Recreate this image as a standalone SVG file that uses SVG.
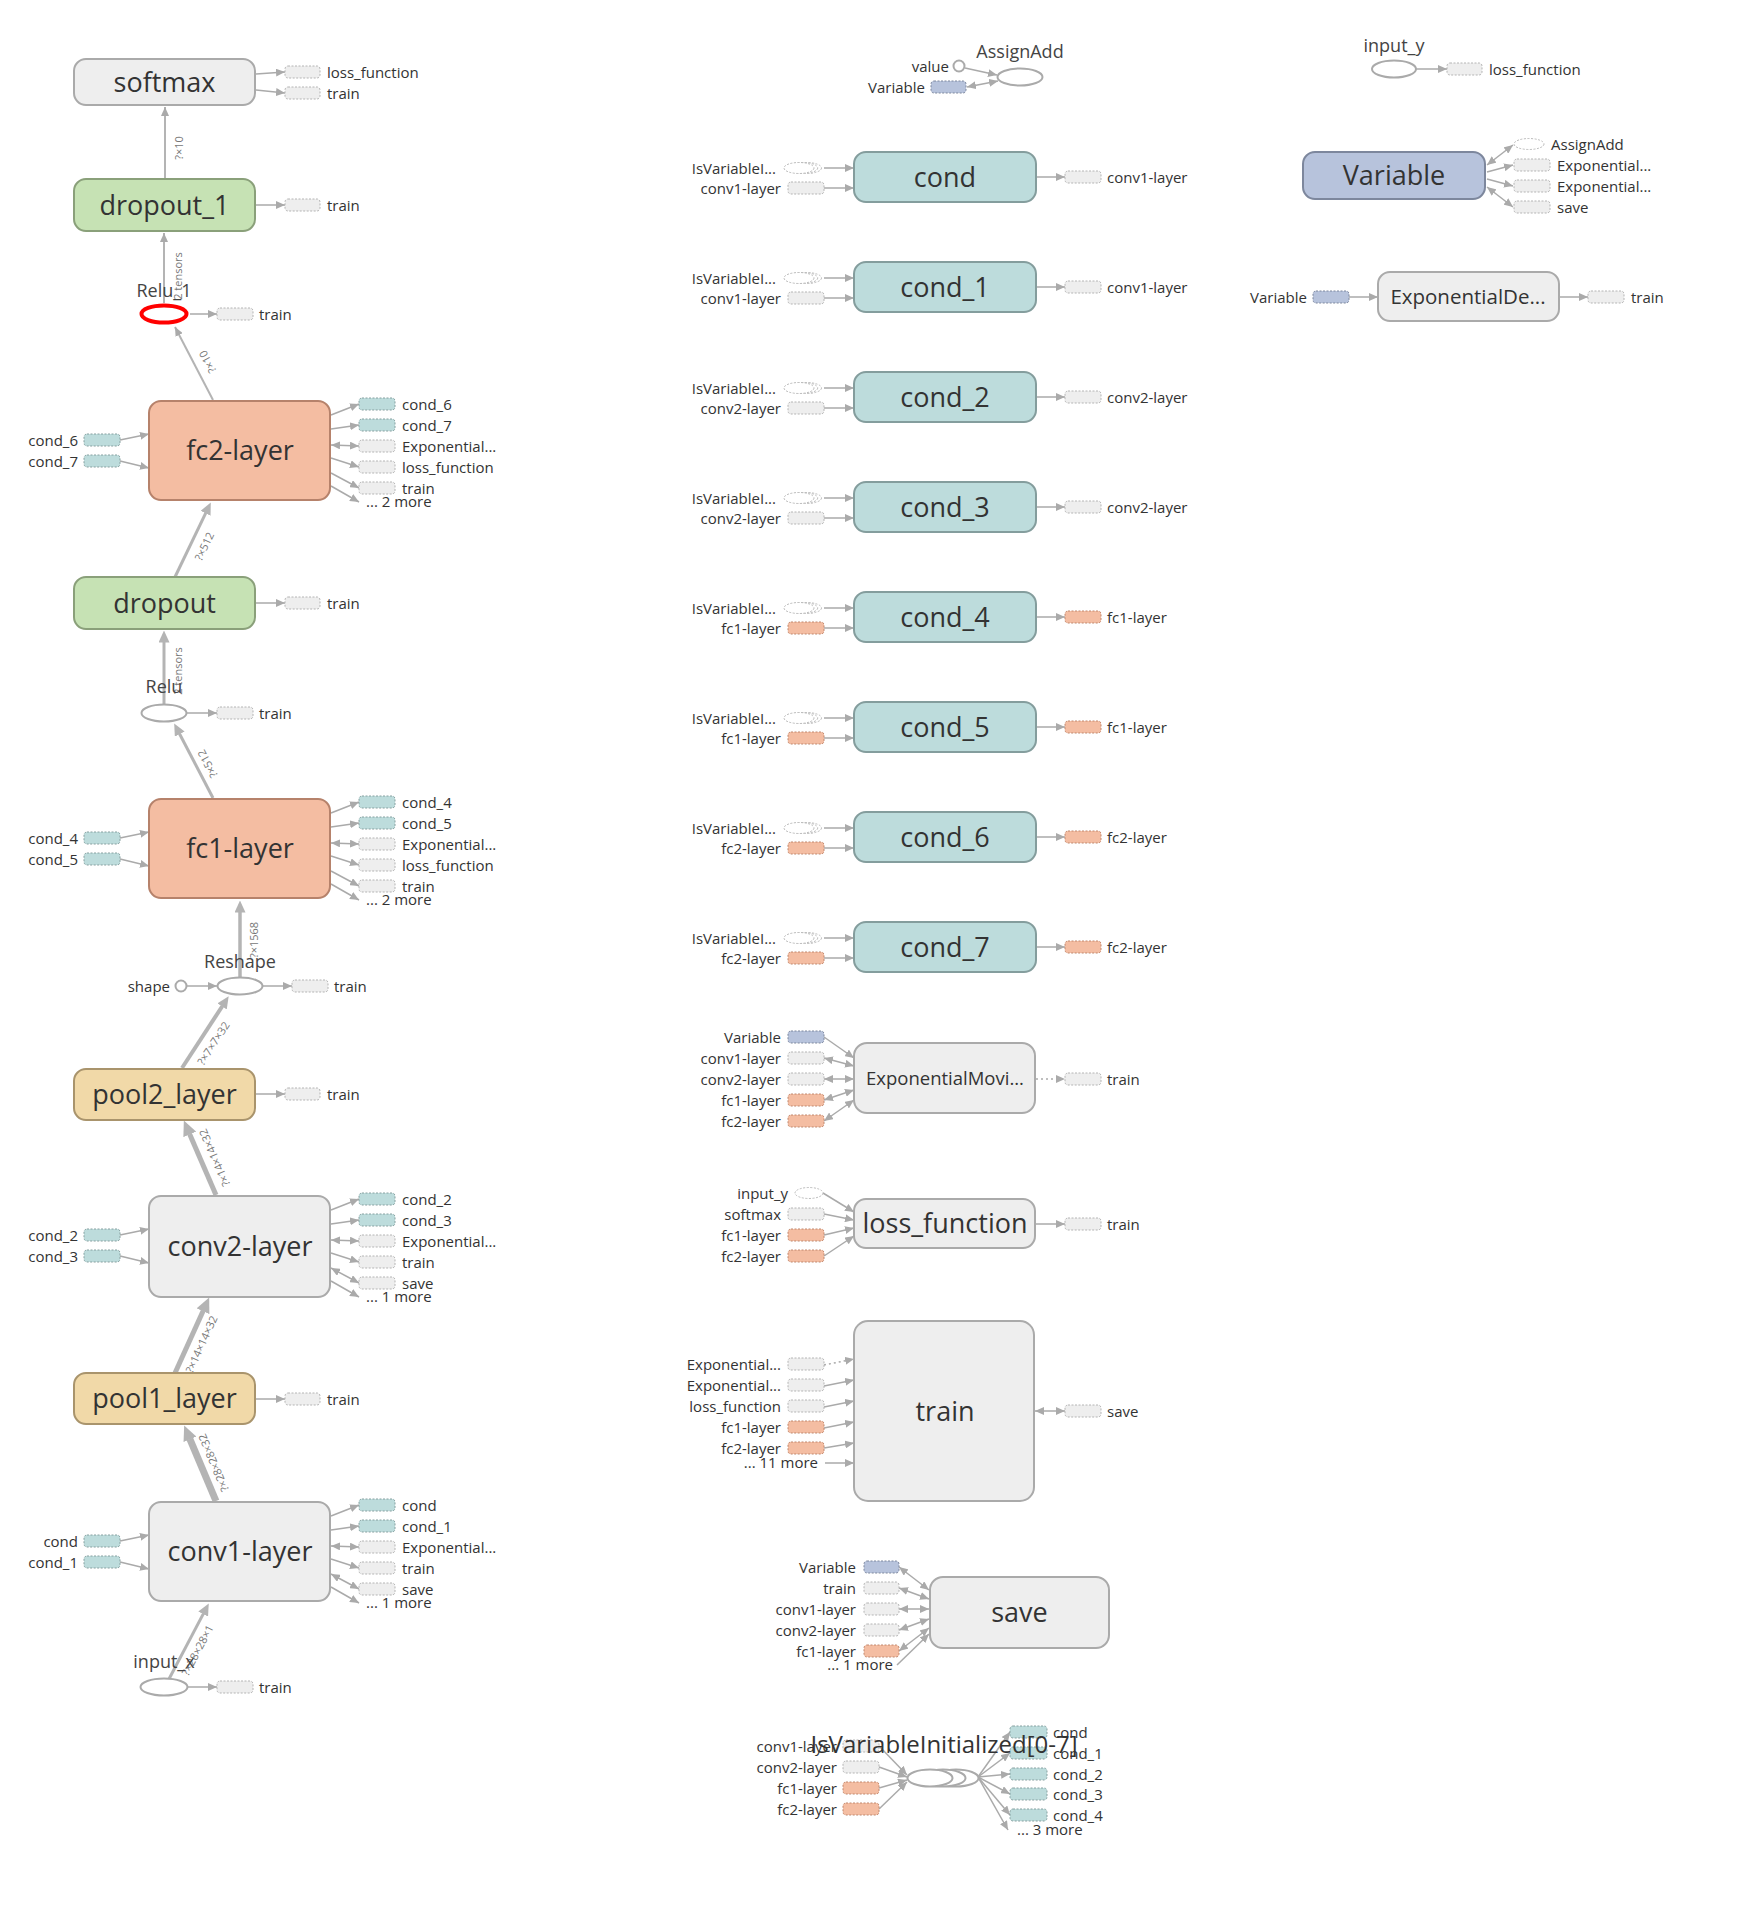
<svg xmlns="http://www.w3.org/2000/svg" width="1752" height="1925" viewBox="0 0 1752 1925">
<defs>
<style>
text{font-family:"Open Sans","Noto Sans","DejaVu Sans",sans-serif;fill:#333}
.nl{font-size:27px;text-anchor:middle}
.sl{font-size:15px}
.r{text-anchor:end}
.ol{font-size:18px;text-anchor:middle;fill:#444}
.el{font-size:11px;fill:#777;text-anchor:middle;dominant-baseline:central}
.box{stroke-width:2}
.grey{fill:#eeeeee;stroke:#aaaaaa}
.cond{fill:#bddcdc;stroke:#849d9d}
.fc{fill:#f4bda2;stroke:#b6826b}
.drop{fill:#c6e2b4;stroke:#8aa07a}
.pool{fill:#f1d9a8;stroke:#a9946c}
.var{fill:#b7c3dc;stroke:#7d879d}
.stub{stroke-width:1;stroke-dasharray:2 1.5}
.sg{fill:#eeeeee;stroke:#b4b4b4}
.sc{fill:#bddcdc;stroke:#86a0a0}
.sf{fill:#f4bda2;stroke:#c0876d}
.sv{fill:#b7c3dc;stroke:#7d879d}
.se{fill:#fff;stroke:#bbb;stroke-width:1;stroke-dasharray:2 1.5}
.op{fill:#fff;stroke:#aaa;stroke-width:2}
.e{fill:none;stroke:#aaa;stroke-width:1.5;marker-end:url(#a)}
.b{marker-start:url(#a)}
.d{stroke-dasharray:2 3}
.me{fill:none;stroke:#b4b4b4}
</style>
<marker id="a" viewBox="0 0 9 8" refX="9" refY="4" markerWidth="9" markerHeight="8" markerUnits="userSpaceOnUse" orient="auto-start-reverse"><path d="M0,0L9,4L0,8z" fill="#aaa"/></marker>
<marker id="am" viewBox="0 0 12 11" refX="0.5" refY="5.5" markerWidth="12" markerHeight="11" markerUnits="userSpaceOnUse" orient="auto"><path d="M0,0L12,5.5L0,11z" fill="#b4b4b4"/></marker>
<marker id="al" viewBox="0 0 15 14" refX="0.5" refY="7" markerWidth="15" markerHeight="14" markerUnits="userSpaceOnUse" orient="auto"><path d="M0,0L15,7L0,14z" fill="#b4b4b4"/></marker>
<g id="isv">
<ellipse class="se" cx="7.5" cy="0" rx="15" ry="5.5"/>
<ellipse class="se" cx="3.7" cy="0" rx="15" ry="5.5"/>
<ellipse class="se" cx="0" cy="0" rx="15" ry="5.5"/>
</g>
</defs>
<rect width="1752" height="1925" fill="#fff"/>

<!-- connectors -->
<g id="connectors">
<!-- main data-flow edges of the left chain -->
<line class="me" x1="165" y1="179" x2="165" y2="107" stroke-width="2" marker-end="url(#a)"/>
<line class="me" x1="164" y1="303" x2="164" y2="233" stroke-width="2" marker-end="url(#a)"/>
<line class="me" x1="213" y1="400" x2="175" y2="327" stroke-width="2" marker-end="url(#a)"/>
<line class="me" x1="175" y1="577" x2="205.8" y2="512.8" stroke-width="3" marker-end="url(#am)"/>
<line class="me" x1="164" y1="704" x2="164" y2="642" stroke-width="3" marker-end="url(#am)"/>
<line class="me" x1="213" y1="798" x2="179.5" y2="733.7" stroke-width="3" marker-end="url(#am)"/>
<line class="me" x1="240" y1="977" x2="240" y2="912" stroke-width="3.5" marker-end="url(#am)"/>
<line class="me" x1="182" y1="1068" x2="222.4" y2="1006" stroke-width="4" marker-end="url(#am)"/>
<line class="me" x1="216" y1="1195" x2="189.6" y2="1133.9" stroke-width="5" marker-end="url(#al)"/>
<line class="me" x1="175" y1="1373" x2="203.2" y2="1310.8" stroke-width="5" marker-end="url(#al)"/>
<line class="me" x1="216" y1="1501" x2="189.8" y2="1438.8" stroke-width="7" marker-end="url(#al)"/>
<line class="me" x1="169" y1="1679" x2="203.4" y2="1613.6" stroke-width="3" marker-end="url(#am)"/>

<!-- edge shape labels -->
<text class="el" transform="translate(178,148) rotate(-90)">?×10</text>
<text class="el" transform="translate(177,276) rotate(-90)">2 tensors</text>
<text class="el" transform="translate(207,362) rotate(-117.5)">?×10</text>
<text class="el" transform="translate(204,546) rotate(-64.4)">?×512</text>
<text class="el" transform="translate(177,671) rotate(-90)">2 tensors</text>
<text class="el" transform="translate(207,764) rotate(-117.5)">?×512</text>
<text class="el" transform="translate(253,940) rotate(-90)">?×1568</text>
<text class="el" transform="translate(213,1043) rotate(-56.9)">?×7×7×32</text>
<text class="el" transform="translate(214,1158) rotate(-113.4)">?×14×14×32</text>
<text class="el" transform="translate(201,1344) rotate(-65.6)">?×14×14×32</text>
<text class="el" transform="translate(213,1463) rotate(-112.8)">?×28×28×32</text>
<text class="el" transform="translate(197,1650) rotate(-62.2)">?×28×28×1</text>

<!-- annotation arrows, left chain -->
<line class="e" x1="256" y1="74" x2="285" y2="72"/>
<line class="e" x1="256" y1="90" x2="285" y2="93"/>
<line class="e" x1="255" y1="205" x2="285" y2="205"/>
<line class="e" x1="190" y1="314" x2="217" y2="314"/>
<line class="e" x1="255" y1="603" x2="285" y2="603"/>
<line class="e" x1="187" y1="713" x2="217" y2="713"/>
<line class="e" x1="187" y1="986" x2="217" y2="986"/>
<line class="e" x1="263" y1="986" x2="292" y2="986"/>
<line class="e" x1="255" y1="1094" x2="285" y2="1094"/>
<line class="e" x1="255" y1="1399" x2="285" y2="1399"/>
<line class="e" x1="188" y1="1687" x2="217" y2="1687"/>

<g transform="translate(0,401)">
<line class="e" x1="120" y1="39" x2="149" y2="33"/>
<line class="e" x1="120" y1="60" x2="149" y2="67"/>
<line class="e" x1="331" y1="14" x2="359" y2="3"/>
<line class="e" x1="331" y1="28" x2="359" y2="24"/>
<line class="e b" x1="331" y1="44" x2="359" y2="45"/>
<line class="e" x1="331" y1="57" x2="359" y2="66"/>
<line class="e" x1="331" y1="72" x2="359" y2="87"/>
<line class="e" x1="331" y1="85" x2="359" y2="101"/>
</g>
<g transform="translate(0,799)">
<line class="e" x1="120" y1="39" x2="149" y2="33"/>
<line class="e" x1="120" y1="60" x2="149" y2="67"/>
<line class="e" x1="331" y1="14" x2="359" y2="3"/>
<line class="e" x1="331" y1="28" x2="359" y2="24"/>
<line class="e b" x1="331" y1="44" x2="359" y2="45"/>
<line class="e" x1="331" y1="57" x2="359" y2="66"/>
<line class="e" x1="331" y1="72" x2="359" y2="87"/>
<line class="e" x1="331" y1="85" x2="359" y2="101"/>
</g>
<g transform="translate(0,1196)">
<line class="e" x1="120" y1="39" x2="149" y2="33"/>
<line class="e" x1="120" y1="60" x2="149" y2="67"/>
<line class="e" x1="331" y1="14" x2="359" y2="3"/>
<line class="e" x1="331" y1="28" x2="359" y2="24"/>
<line class="e b" x1="331" y1="44" x2="359" y2="45"/>
<line class="e" x1="331" y1="57" x2="359" y2="66"/>
<line class="e b" x1="331" y1="72" x2="359" y2="87"/>
<line class="e" x1="331" y1="85" x2="359" y2="101"/>
</g>
<g transform="translate(0,1502)">
<line class="e" x1="120" y1="39" x2="149" y2="33"/>
<line class="e" x1="120" y1="60" x2="149" y2="67"/>
<line class="e" x1="331" y1="14" x2="359" y2="3"/>
<line class="e" x1="331" y1="28" x2="359" y2="24"/>
<line class="e b" x1="331" y1="44" x2="359" y2="45"/>
<line class="e" x1="331" y1="57" x2="359" y2="66"/>
<line class="e b" x1="331" y1="72" x2="359" y2="87"/>
<line class="e" x1="331" y1="85" x2="359" y2="101"/>
</g>

<!-- middle column -->
<line class="e" x1="965" y1="68" x2="997" y2="75"/>
<line class="e b" x1="998" y1="81" x2="967" y2="87"/>

<g transform="translate(0,152)">
<line class="e" x1="824" y1="16" x2="854" y2="16"/><line class="e" x1="824" y1="36" x2="854" y2="36"/><line class="e" x1="1037" y1="25" x2="1065" y2="25"/>
</g>
<g transform="translate(0,262)">
<line class="e" x1="824" y1="16" x2="854" y2="16"/><line class="e" x1="824" y1="36" x2="854" y2="36"/><line class="e" x1="1037" y1="25" x2="1065" y2="25"/>
</g>
<g transform="translate(0,372)">
<line class="e" x1="824" y1="16" x2="854" y2="16"/><line class="e" x1="824" y1="36" x2="854" y2="36"/><line class="e" x1="1037" y1="25" x2="1065" y2="25"/>
</g>
<g transform="translate(0,482)">
<line class="e" x1="824" y1="16" x2="854" y2="16"/><line class="e" x1="824" y1="36" x2="854" y2="36"/><line class="e" x1="1037" y1="25" x2="1065" y2="25"/>
</g>
<g transform="translate(0,592)">
<line class="e" x1="824" y1="16" x2="854" y2="16"/><line class="e" x1="824" y1="36" x2="854" y2="36"/><line class="e" x1="1037" y1="25" x2="1065" y2="25"/>
</g>
<g transform="translate(0,702)">
<line class="e" x1="824" y1="16" x2="854" y2="16"/><line class="e" x1="824" y1="36" x2="854" y2="36"/><line class="e" x1="1037" y1="25" x2="1065" y2="25"/>
</g>
<g transform="translate(0,812)">
<line class="e" x1="824" y1="16" x2="854" y2="16"/><line class="e" x1="824" y1="36" x2="854" y2="36"/><line class="e" x1="1037" y1="25" x2="1065" y2="25"/>
</g>
<g transform="translate(0,922)">
<line class="e" x1="824" y1="16" x2="854" y2="16"/><line class="e" x1="824" y1="36" x2="854" y2="36"/><line class="e" x1="1037" y1="25" x2="1065" y2="25"/>
</g>

<line class="e" x1="824" y1="1037" x2="854" y2="1058"/>
<line class="e b" x1="824" y1="1058" x2="854" y2="1066"/>
<line class="e b" x1="824" y1="1079" x2="854" y2="1079"/>
<line class="e b" x1="824" y1="1100" x2="854" y2="1090"/>
<line class="e b" x1="824" y1="1121" x2="854" y2="1100"/>
<line class="e d" x1="1036" y1="1079" x2="1065" y2="1079"/>

<line class="e" x1="823" y1="1193" x2="854" y2="1212"/>
<line class="e" x1="824" y1="1214" x2="854" y2="1220"/>
<line class="e" x1="824" y1="1235" x2="854" y2="1228"/>
<line class="e" x1="824" y1="1256" x2="854" y2="1236"/>
<line class="e" x1="1036" y1="1224" x2="1065" y2="1224"/>

<line class="e d" x1="824" y1="1365" x2="854" y2="1359"/>
<line class="e" x1="824" y1="1386" x2="854" y2="1380"/>
<line class="e" x1="824" y1="1407" x2="854" y2="1401"/>
<line class="e" x1="824" y1="1428" x2="854" y2="1422"/>
<line class="e" x1="824" y1="1448" x2="854" y2="1443"/>
<line class="e" x1="825" y1="1463" x2="854" y2="1463"/>
<line class="e b" x1="1035" y1="1411" x2="1065" y2="1411"/>

<line class="e b" x1="899" y1="1567" x2="929" y2="1590"/>
<line class="e b" x1="899" y1="1588" x2="929" y2="1599"/>
<line class="e b" x1="899" y1="1609" x2="929" y2="1609"/>
<line class="e b" x1="899" y1="1630" x2="929" y2="1619"/>
<line class="e b" x1="899" y1="1651" x2="929" y2="1628"/>
<line class="e" x1="897" y1="1665" x2="929" y2="1634"/>

<line class="e" x1="879" y1="1746" x2="907" y2="1775"/>
<line class="e" x1="879" y1="1767" x2="907" y2="1777"/>
<line class="e" x1="879" y1="1788" x2="907" y2="1780"/>
<line class="e" x1="879" y1="1809" x2="907" y2="1782"/>
<line class="e" x1="978" y1="1777" x2="1010" y2="1732"/>
<line class="e" x1="978" y1="1777" x2="1010" y2="1753"/>
<line class="e" x1="978" y1="1777" x2="1010" y2="1774"/>
<line class="e" x1="978" y1="1777" x2="1010" y2="1794"/>
<line class="e" x1="978" y1="1777" x2="1010" y2="1815"/>
<line class="e" x1="978" y1="1777" x2="1008" y2="1830"/>

<!-- right column -->
<line class="e" x1="1416" y1="69" x2="1447" y2="69"/>
<line class="e b" x1="1487" y1="165" x2="1513" y2="145"/>
<line class="e" x1="1487" y1="172" x2="1513" y2="165"/>
<line class="e" x1="1487" y1="179" x2="1513" y2="186"/>
<line class="e b" x1="1487" y1="187" x2="1513" y2="207"/>
<line class="e" x1="1349" y1="297" x2="1378" y2="297"/>
<line class="e" x1="1559" y1="297" x2="1588" y2="297"/>
</g>

<!-- left chain nodes -->
<g id="node-softmax">
<rect class="box grey" x="74" y="59" width="181" height="46" rx="12"/>
<text class="nl" x="164.5" y="91.5">softmax</text>
<rect class="stub sg" x="285" y="66" width="35" height="12" rx="3"/>
<text class="sl" x="327" y="77.5">loss_function</text>
<rect class="stub sg" x="285" y="87" width="35" height="12" rx="3"/>
<text class="sl" x="327" y="98.5">train</text>
</g>

<g id="node-dropout_1">
<rect class="box drop" x="74" y="179" width="181" height="52" rx="12"/>
<text class="nl" x="164.5" y="214.5">dropout_1</text>
<rect class="stub sg" x="285" y="199" width="35" height="12" rx="3"/>
<text class="sl" x="327" y="210.5">train</text>
</g>

<g id="node-Relu_1">
<ellipse cx="164" cy="314" rx="22.5" ry="8.5" fill="#fff" stroke="#ff0000" stroke-width="4"/>
<text class="ol" x="164" y="297">Relu_1</text>
<rect class="stub sg" x="217" y="308" width="36" height="12" rx="3"/>
<text class="sl" x="259" y="319.5">train</text>
</g>

<g id="node-fc2-layer" transform="translate(0,401)">
<rect class="box fc" x="149" y="0" width="181" height="99" rx="12"/>
<text class="nl" x="240" y="59">fc2-layer</text>
<rect class="stub sc" x="84" y="33" width="36" height="12" rx="3"/>
<text class="sl r" x="78" y="44.5">cond_6</text>
<rect class="stub sc" x="84" y="54" width="36" height="12" rx="3"/>
<text class="sl r" x="78" y="65.5">cond_7</text>
<rect class="stub sc" x="359" y="-3" width="36" height="12" rx="3"/>
<text class="sl" x="402" y="8.5">cond_6</text>
<rect class="stub sc" x="359" y="18" width="36" height="12" rx="3"/>
<text class="sl" x="402" y="29.5">cond_7</text>
<rect class="stub sg" x="359" y="39" width="36" height="12" rx="3"/>
<text class="sl" x="402" y="50.5">Exponential...</text>
<rect class="stub sg" x="359" y="60" width="36" height="12" rx="3"/>
<text class="sl" x="402" y="71.5">loss_function</text>
<rect class="stub sg" x="359" y="81" width="36" height="12" rx="3"/>
<text class="sl" x="402" y="92.5">train</text>
<text class="sl" x="366" y="106">... 2 more</text>
</g>

<g id="node-dropout">
<rect class="box drop" x="74" y="577" width="181" height="52" rx="12"/>
<text class="nl" x="164.5" y="612.5">dropout</text>
<rect class="stub sg" x="285" y="597" width="35" height="12" rx="3"/>
<text class="sl" x="327" y="608.5">train</text>
</g>

<g id="node-Relu">
<ellipse class="op" cx="164" cy="713" rx="22.5" ry="8.5"/>
<text class="ol" x="164" y="693">Relu</text>
<rect class="stub sg" x="217" y="707" width="36" height="12" rx="3"/>
<text class="sl" x="259" y="718.5">train</text>
</g>

<g id="node-fc1-layer" transform="translate(0,799)">
<rect class="box fc" x="149" y="0" width="181" height="99" rx="12"/>
<text class="nl" x="240" y="59">fc1-layer</text>
<rect class="stub sc" x="84" y="33" width="36" height="12" rx="3"/>
<text class="sl r" x="78" y="44.5">cond_4</text>
<rect class="stub sc" x="84" y="54" width="36" height="12" rx="3"/>
<text class="sl r" x="78" y="65.5">cond_5</text>
<rect class="stub sc" x="359" y="-3" width="36" height="12" rx="3"/>
<text class="sl" x="402" y="8.5">cond_4</text>
<rect class="stub sc" x="359" y="18" width="36" height="12" rx="3"/>
<text class="sl" x="402" y="29.5">cond_5</text>
<rect class="stub sg" x="359" y="39" width="36" height="12" rx="3"/>
<text class="sl" x="402" y="50.5">Exponential...</text>
<rect class="stub sg" x="359" y="60" width="36" height="12" rx="3"/>
<text class="sl" x="402" y="71.5">loss_function</text>
<rect class="stub sg" x="359" y="81" width="36" height="12" rx="3"/>
<text class="sl" x="402" y="92.5">train</text>
<text class="sl" x="366" y="106">... 2 more</text>
</g>

<g id="node-Reshape">
<ellipse class="op" cx="240" cy="986" rx="22.5" ry="8.5"/>
<text class="ol" x="240" y="968">Reshape</text>
<circle class="op" cx="181" cy="986" r="5.5" stroke-width="1.5"/>
<text class="sl r" x="170" y="991.5">shape</text>
<rect class="stub sg" x="292" y="980" width="36" height="12" rx="3"/>
<text class="sl" x="334" y="991.5">train</text>
</g>

<g id="node-pool2_layer">
<rect class="box pool" x="74" y="1069" width="181" height="51" rx="12"/>
<text class="nl" x="164.5" y="1104">pool2_layer</text>
<rect class="stub sg" x="285" y="1088" width="35" height="12" rx="3"/>
<text class="sl" x="327" y="1099.5">train</text>
</g>

<g id="node-conv2-layer" transform="translate(0,1196)">
<rect class="box grey" x="149" y="0" width="181" height="101" rx="12"/>
<text class="nl" x="240" y="60">conv2-layer</text>
<rect class="stub sc" x="84" y="33" width="36" height="12" rx="3"/>
<text class="sl r" x="78" y="44.5">cond_2</text>
<rect class="stub sc" x="84" y="54" width="36" height="12" rx="3"/>
<text class="sl r" x="78" y="65.5">cond_3</text>
<rect class="stub sc" x="359" y="-3" width="36" height="12" rx="3"/>
<text class="sl" x="402" y="8.5">cond_2</text>
<rect class="stub sc" x="359" y="18" width="36" height="12" rx="3"/>
<text class="sl" x="402" y="29.5">cond_3</text>
<rect class="stub sg" x="359" y="39" width="36" height="12" rx="3"/>
<text class="sl" x="402" y="50.5">Exponential...</text>
<rect class="stub sg" x="359" y="60" width="36" height="12" rx="3"/>
<text class="sl" x="402" y="71.5">train</text>
<rect class="stub sg" x="359" y="81" width="36" height="12" rx="3"/>
<text class="sl" x="402" y="92.5">save</text>
<text class="sl" x="366" y="106">... 1 more</text>
</g>

<g id="node-pool1_layer">
<rect class="box pool" x="74" y="1373" width="181" height="51" rx="12"/>
<text class="nl" x="164.5" y="1408">pool1_layer</text>
<rect class="stub sg" x="285" y="1393" width="35" height="12" rx="3"/>
<text class="sl" x="327" y="1404.5">train</text>
</g>

<g id="node-conv1-layer" transform="translate(0,1502)">
<rect class="box grey" x="149" y="0" width="181" height="99" rx="12"/>
<text class="nl" x="240" y="59">conv1-layer</text>
<rect class="stub sc" x="84" y="33" width="36" height="12" rx="3"/>
<text class="sl r" x="78" y="44.5">cond</text>
<rect class="stub sc" x="84" y="54" width="36" height="12" rx="3"/>
<text class="sl r" x="78" y="65.5">cond_1</text>
<rect class="stub sc" x="359" y="-3" width="36" height="12" rx="3"/>
<text class="sl" x="402" y="8.5">cond</text>
<rect class="stub sc" x="359" y="18" width="36" height="12" rx="3"/>
<text class="sl" x="402" y="29.5">cond_1</text>
<rect class="stub sg" x="359" y="39" width="36" height="12" rx="3"/>
<text class="sl" x="402" y="50.5">Exponential...</text>
<rect class="stub sg" x="359" y="60" width="36" height="12" rx="3"/>
<text class="sl" x="402" y="71.5">train</text>
<rect class="stub sg" x="359" y="81" width="36" height="12" rx="3"/>
<text class="sl" x="402" y="92.5">save</text>
<text class="sl" x="366" y="106">... 1 more</text>
</g>

<g id="node-input_x">
<ellipse class="op" cx="164" cy="1687" rx="23.5" ry="8.5"/>
<text class="ol" x="164" y="1668">input_x</text>
<rect class="stub sg" x="217" y="1681" width="36" height="12" rx="3"/>
<text class="sl" x="259" y="1692.5">train</text>
</g>

<!-- middle column nodes -->
<g id="node-AssignAdd">
<ellipse class="op" cx="1020" cy="77" rx="22.5" ry="8.5"/>
<text class="ol" x="1020" y="58">AssignAdd</text>
<circle class="op" cx="959" cy="66" r="5.5" stroke-width="1.5"/>
<text class="sl r" x="949" y="71.5">value</text>
<rect class="stub sv" x="931" y="81" width="35" height="12" rx="3"/>
<text class="sl r" x="925" y="92.5">Variable</text>
</g>

<g id="node-cond" transform="translate(0,152)">
<rect class="box cond" x="854" y="0" width="182" height="50" rx="12"/>
<text class="nl" x="945" y="34.5">cond</text>
<use href="#isv" x="799" y="16"/>
<text class="sl r" x="776" y="21.5">IsVariableI...</text>
<rect class="stub sg" x="788" y="30" width="36" height="12" rx="3"/>
<text class="sl r" x="781" y="41.5">conv1-layer</text>
<rect class="stub sg" x="1065" y="19" width="36" height="12" rx="3"/>
<text class="sl" x="1107" y="30.5">conv1-layer</text>
</g>
<g id="node-cond_1" transform="translate(0,262)">
<rect class="box cond" x="854" y="0" width="182" height="50" rx="12"/>
<text class="nl" x="945" y="34.5">cond_1</text>
<use href="#isv" x="799" y="16"/>
<text class="sl r" x="776" y="21.5">IsVariableI...</text>
<rect class="stub sg" x="788" y="30" width="36" height="12" rx="3"/>
<text class="sl r" x="781" y="41.5">conv1-layer</text>
<rect class="stub sg" x="1065" y="19" width="36" height="12" rx="3"/>
<text class="sl" x="1107" y="30.5">conv1-layer</text>
</g>
<g id="node-cond_2" transform="translate(0,372)">
<rect class="box cond" x="854" y="0" width="182" height="50" rx="12"/>
<text class="nl" x="945" y="34.5">cond_2</text>
<use href="#isv" x="799" y="16"/>
<text class="sl r" x="776" y="21.5">IsVariableI...</text>
<rect class="stub sg" x="788" y="30" width="36" height="12" rx="3"/>
<text class="sl r" x="781" y="41.5">conv2-layer</text>
<rect class="stub sg" x="1065" y="19" width="36" height="12" rx="3"/>
<text class="sl" x="1107" y="30.5">conv2-layer</text>
</g>
<g id="node-cond_3" transform="translate(0,482)">
<rect class="box cond" x="854" y="0" width="182" height="50" rx="12"/>
<text class="nl" x="945" y="34.5">cond_3</text>
<use href="#isv" x="799" y="16"/>
<text class="sl r" x="776" y="21.5">IsVariableI...</text>
<rect class="stub sg" x="788" y="30" width="36" height="12" rx="3"/>
<text class="sl r" x="781" y="41.5">conv2-layer</text>
<rect class="stub sg" x="1065" y="19" width="36" height="12" rx="3"/>
<text class="sl" x="1107" y="30.5">conv2-layer</text>
</g>
<g id="node-cond_4" transform="translate(0,592)">
<rect class="box cond" x="854" y="0" width="182" height="50" rx="12"/>
<text class="nl" x="945" y="34.5">cond_4</text>
<use href="#isv" x="799" y="16"/>
<text class="sl r" x="776" y="21.5">IsVariableI...</text>
<rect class="stub sf" x="788" y="30" width="36" height="12" rx="3"/>
<text class="sl r" x="781" y="41.5">fc1-layer</text>
<rect class="stub sf" x="1065" y="19" width="36" height="12" rx="3"/>
<text class="sl" x="1107" y="30.5">fc1-layer</text>
</g>
<g id="node-cond_5" transform="translate(0,702)">
<rect class="box cond" x="854" y="0" width="182" height="50" rx="12"/>
<text class="nl" x="945" y="34.5">cond_5</text>
<use href="#isv" x="799" y="16"/>
<text class="sl r" x="776" y="21.5">IsVariableI...</text>
<rect class="stub sf" x="788" y="30" width="36" height="12" rx="3"/>
<text class="sl r" x="781" y="41.5">fc1-layer</text>
<rect class="stub sf" x="1065" y="19" width="36" height="12" rx="3"/>
<text class="sl" x="1107" y="30.5">fc1-layer</text>
</g>
<g id="node-cond_6" transform="translate(0,812)">
<rect class="box cond" x="854" y="0" width="182" height="50" rx="12"/>
<text class="nl" x="945" y="34.5">cond_6</text>
<use href="#isv" x="799" y="16"/>
<text class="sl r" x="776" y="21.5">IsVariableI...</text>
<rect class="stub sf" x="788" y="30" width="36" height="12" rx="3"/>
<text class="sl r" x="781" y="41.5">fc2-layer</text>
<rect class="stub sf" x="1065" y="19" width="36" height="12" rx="3"/>
<text class="sl" x="1107" y="30.5">fc2-layer</text>
</g>
<g id="node-cond_7" transform="translate(0,922)">
<rect class="box cond" x="854" y="0" width="182" height="50" rx="12"/>
<text class="nl" x="945" y="34.5">cond_7</text>
<use href="#isv" x="799" y="16"/>
<text class="sl r" x="776" y="21.5">IsVariableI...</text>
<rect class="stub sf" x="788" y="30" width="36" height="12" rx="3"/>
<text class="sl r" x="781" y="41.5">fc2-layer</text>
<rect class="stub sf" x="1065" y="19" width="36" height="12" rx="3"/>
<text class="sl" x="1107" y="30.5">fc2-layer</text>
</g>

<g id="node-ExponentialMovingAverage">
<rect class="box grey" x="854" y="1043" width="181" height="70" rx="13"/>
<text x="945" y="1085" font-size="18.5" text-anchor="middle">ExponentialMovi...</text>
<rect class="stub sv" x="788" y="1031" width="36" height="12" rx="3"/>
<text class="sl r" x="781" y="1042.5">Variable</text>
<rect class="stub sg" x="788" y="1052" width="36" height="12" rx="3"/>
<text class="sl r" x="781" y="1063.5">conv1-layer</text>
<rect class="stub sg" x="788" y="1073" width="36" height="12" rx="3"/>
<text class="sl r" x="781" y="1084.5">conv2-layer</text>
<rect class="stub sf" x="788" y="1094" width="36" height="12" rx="3"/>
<text class="sl r" x="781" y="1105.5">fc1-layer</text>
<rect class="stub sf" x="788" y="1115" width="36" height="12" rx="3"/>
<text class="sl r" x="781" y="1126.5">fc2-layer</text>
<rect class="stub sg" x="1065" y="1073" width="36" height="12" rx="3"/>
<text class="sl" x="1107" y="1084.5">train</text>
</g>

<g id="node-loss_function">
<rect class="box grey" x="854" y="1199" width="181" height="49" rx="12"/>
<text class="nl" x="945" y="1233">loss_function</text>
<ellipse class="se" cx="809" cy="1193" rx="14" ry="5.5"/>
<text class="sl r" x="788" y="1198.5">input_y</text>
<rect class="stub sg" x="788" y="1208" width="36" height="12" rx="3"/>
<text class="sl r" x="781" y="1219.5">softmax</text>
<rect class="stub sf" x="788" y="1229" width="36" height="12" rx="3"/>
<text class="sl r" x="781" y="1240.5">fc1-layer</text>
<rect class="stub sf" x="788" y="1250" width="36" height="12" rx="3"/>
<text class="sl r" x="781" y="1261.5">fc2-layer</text>
<rect class="stub sg" x="1065" y="1218" width="36" height="12" rx="3"/>
<text class="sl" x="1107" y="1229.5">train</text>
</g>

<g id="node-train">
<rect class="box grey" x="854" y="1321" width="180" height="180" rx="14"/>
<text class="nl" x="945" y="1421">train</text>
<rect class="stub sg" x="788" y="1358" width="36" height="12" rx="3"/>
<text class="sl r" x="781" y="1369.5">Exponential...</text>
<rect class="stub sg" x="788" y="1379" width="36" height="12" rx="3"/>
<text class="sl r" x="781" y="1390.5">Exponential...</text>
<rect class="stub sg" x="788" y="1400" width="36" height="12" rx="3"/>
<text class="sl r" x="781" y="1411.5">loss_function</text>
<rect class="stub sf" x="788" y="1421" width="36" height="12" rx="3"/>
<text class="sl r" x="781" y="1432.5">fc1-layer</text>
<rect class="stub sf" x="788" y="1442" width="36" height="12" rx="3"/>
<text class="sl r" x="781" y="1453.5">fc2-layer</text>
<text class="sl r" x="818" y="1468">... 11 more</text>
<rect class="stub sg" x="1065" y="1405" width="36" height="12" rx="3"/>
<text class="sl" x="1107" y="1416.5">save</text>
</g>

<g id="node-save">
<rect class="box grey" x="930" y="1577" width="179" height="71" rx="13"/>
<text class="nl" x="1019.5" y="1622">save</text>
<rect class="stub sv" x="864" y="1561" width="35" height="12" rx="3"/>
<text class="sl r" x="856" y="1572.5">Variable</text>
<rect class="stub sg" x="864" y="1582" width="35" height="12" rx="3"/>
<text class="sl r" x="856" y="1593.5">train</text>
<rect class="stub sg" x="864" y="1603" width="35" height="12" rx="3"/>
<text class="sl r" x="856" y="1614.5">conv1-layer</text>
<rect class="stub sg" x="864" y="1624" width="35" height="12" rx="3"/>
<text class="sl r" x="856" y="1635.5">conv2-layer</text>
<rect class="stub sf" x="864" y="1645" width="35" height="12" rx="3"/>
<text class="sl r" x="856" y="1656.5">fc1-layer</text>
<text class="sl r" x="893" y="1670">... 1 more</text>
</g>

<g id="node-IsVariableInitialized">
<ellipse class="op" cx="956" cy="1778" rx="22.5" ry="8.5"/>
<ellipse class="op" cx="943" cy="1778" rx="22.5" ry="8.5"/>
<ellipse class="op" cx="930" cy="1778" rx="22.5" ry="8.5"/>
<rect class="stub sg" x="843" y="1740" width="36" height="12" rx="3"/>
<text class="sl r" x="837" y="1751.5">conv1-layer</text>
<rect class="stub sg" x="843" y="1761" width="36" height="12" rx="3"/>
<text class="sl r" x="837" y="1772.5">conv2-layer</text>
<rect class="stub sf" x="843" y="1782" width="36" height="12" rx="3"/>
<text class="sl r" x="837" y="1793.5">fc1-layer</text>
<rect class="stub sf" x="843" y="1803" width="36" height="12" rx="3"/>
<text class="sl r" x="837" y="1814.5">fc2-layer</text>
<rect class="stub sc" x="1010" y="1726" width="37" height="12" rx="3"/>
<text class="sl" x="1053" y="1737.5">cond</text>
<rect class="stub sc" x="1010" y="1747" width="37" height="12" rx="3"/>
<text class="sl" x="1053" y="1758.5">cond_1</text>
<rect class="stub sc" x="1010" y="1768" width="37" height="12" rx="3"/>
<text class="sl" x="1053" y="1779.5">cond_2</text>
<rect class="stub sc" x="1010" y="1788" width="37" height="12" rx="3"/>
<text class="sl" x="1053" y="1799.5">cond_3</text>
<rect class="stub sc" x="1010" y="1809" width="37" height="12" rx="3"/>
<text class="sl" x="1053" y="1820.5">cond_4</text>
<text class="sl" x="1017" y="1835">... 3 more</text>
<text x="944" y="1753" font-size="24" text-anchor="middle" fill="#444">IsVariableInitialized[0-7]</text>
</g>

<!-- right column nodes -->
<g id="node-input_y">
<ellipse class="op" cx="1394" cy="69" rx="22" ry="8.5"/>
<text class="ol" x="1394" y="52">input_y</text>
<rect class="stub sg" x="1447" y="63" width="35" height="12" rx="3"/>
<text class="sl" x="1489" y="74.5">loss_function</text>
</g>

<g id="node-Variable">
<rect class="box var" x="1303" y="152" width="182" height="47" rx="12"/>
<text class="nl" x="1394" y="185">Variable</text>
<ellipse class="se" cx="1529" cy="144" rx="15" ry="5.5"/>
<text class="sl" x="1551" y="149.5">AssignAdd</text>
<rect class="stub sg" x="1514" y="159" width="36" height="12" rx="3"/>
<text class="sl" x="1557" y="170.5">Exponential...</text>
<rect class="stub sg" x="1514" y="180" width="36" height="12" rx="3"/>
<text class="sl" x="1557" y="191.5">Exponential...</text>
<rect class="stub sg" x="1514" y="201" width="36" height="12" rx="3"/>
<text class="sl" x="1557" y="212.5">save</text>
</g>

<g id="node-ExponentialDecay">
<rect class="box grey" x="1378" y="272" width="181" height="49" rx="12"/>
<text x="1468" y="304" font-size="20.5" text-anchor="middle">ExponentialDe...</text>
<rect class="stub sv" x="1313" y="291" width="36" height="12" rx="3"/>
<text class="sl r" x="1307" y="302.5">Variable</text>
<rect class="stub sg" x="1588" y="291" width="36" height="12" rx="3"/>
<text class="sl" x="1631" y="302.5">train</text>
</g>
</svg>
